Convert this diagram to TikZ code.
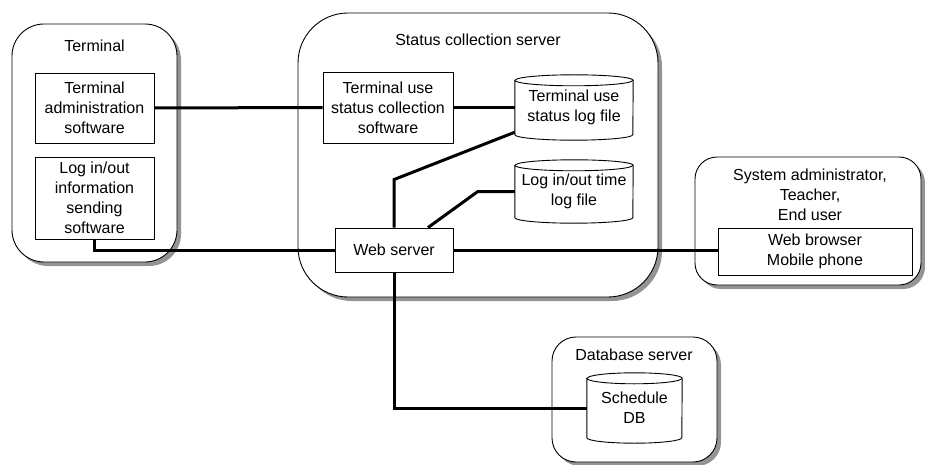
\documentclass[tikz,border=0pt]{standalone}
\usepackage{fontspec}
\setmainfont{Liberation Sans}
\usetikzlibrary{shadows,calc}

% cylinder outline drawn around a named node: #1 node, #2 half width, #3 cap radius
\newcommand\drawcyl[3]{%
  \draw[outline] ([yshift=-#3]#1.north west) -- ([yshift=#3]#1.south west)
    arc[start angle=180,end angle=360,x radius=#2,y radius=#3]
    -- ([yshift=-#3]#1.north east)
    arc[start angle=0,end angle=180,x radius=#2,y radius=#3] -- cycle;
  \draw[outline] ([yshift=-#3]#1.north west)
    arc[start angle=180,end angle=360,x radius=#2,y radius=#3];
}

\tikzset{
  txt/.style={font=\fontsize{16}{20}\selectfont, align=center},
  outline/.style={line width=0.9pt},
  group/.style={draw, outline, fill=white, inner sep=0pt,
    drop shadow={shadow xshift=4pt, shadow yshift=-4pt, fill=black!42, opacity=1}},
  box/.style={draw, outline, fill=white, inner sep=0pt, txt},
  cylnode/.style={inner sep=0pt, txt},
  caption/.style={inner sep=0pt, txt},
  link/.style={line width=3pt},
}

\begin{document}
\begin{tikzpicture}[x=1pt, y=-1pt]
  \useasboundingbox (0,0) rectangle (925,465);

  % machines
  \node[group, rounded corners=32pt, minimum width=165pt, minimum height=238pt] (terminal) at (94.5,143) {};
  \node[group, rounded corners=50pt, minimum width=360pt, minimum height=284pt] (server) at (478,155) {};
  \node[group, rounded corners=22pt, minimum width=226pt, minimum height=128pt] (users) at (808,221) {};
  \node[group, rounded corners=24pt, minimum width=165pt, minimum height=125pt] (dbserver) at (634.5,399.5) {};

  \node[caption] (terminallbl) at (94.5,46) {Terminal};
  \node[caption] (serverlbl) at (478,40) {Status collection server};
  \node[caption] (userslbl) at (810,195) {System administrator,\\Teacher,\\End user};
  \node[caption] (dblbl) at (634,355) {Database server};

  % software and data stores
  \node[box, minimum width=119pt, minimum height=70pt] (admin) at (94.5,108)
    {Terminal\\administration\\software};
  \node[box, minimum width=119pt, minimum height=82pt] (loginfo) at (94.5,198)
    {Log in/out\\information\\sending\\software};
  \node[box, minimum width=130pt, minimum height=71pt] (collect) at (388,107.5)
    {Terminal use\\status collection\\software};
  \node[box, minimum width=118pt, minimum height=44pt] (web) at (394,250) {Web server};
  \node[box, minimum width=194pt, minimum height=47pt] (browser) at (815,251.5)
    {Web browser\\Mobile phone};

  \node[cylnode, minimum width=118pt, minimum height=65pt] (logfile) at (574,107.5)
    {Terminal use\\status log file};
  \node[cylnode, minimum width=118pt, minimum height=63pt] (timelog) at (574,191.5)
    {Log in/out time\\log file};
  \node[cylnode, minimum width=95pt, minimum height=70pt] (schedule) at (634.5,408)
    {Schedule\\DB};
  \drawcyl{logfile}{59pt}{5.5pt}
  \drawcyl{timelog}{59pt}{5.5pt}
  \drawcyl{schedule}{47.5pt}{5.5pt}

  % connections
  \draw[link] (admin.east) -- (collect.west);
  \draw[link] (collect.east) -- (logfile.west);
  \draw[link] (loginfo.south) |- (web.west);
  \draw[link] (web.east) -- (web.east -| browser.west);
  \draw[link] (web.north) -- ++(0,-48) -- ([yshift=8pt]logfile.south west);
  \draw[link] ([xshift=34pt]web.north) -- ($(timelog.west)+(-37,0)$) -- (timelog.west);
  \draw[link] (web.south) |- (schedule.west);
\end{tikzpicture}
\end{document}
